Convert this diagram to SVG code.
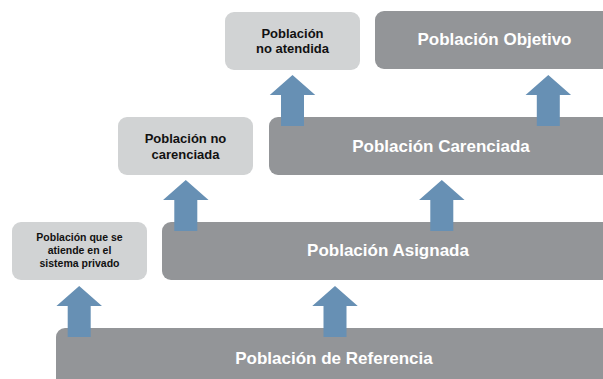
<svg xmlns="http://www.w3.org/2000/svg" xmlns:xlink="http://www.w3.org/1999/xlink" width="603" height="379" viewBox="0 0 603 379">
  <style>
    .dark { fill: #939598; }
    .light { fill: #d1d3d4; }
    .big { font-family: "Liberation Sans", Arial, sans-serif; font-weight: bold; font-size: 17px; fill: #ffffff; text-anchor: middle; }
    .mid { font-family: "Liberation Sans", Arial, sans-serif; font-weight: bold; font-size: 13px; fill: #111111; text-anchor: middle; }
    .small { font-family: "Liberation Sans", Arial, sans-serif; font-weight: bold; font-size: 10.5px; fill: #111111; text-anchor: middle; }
    .arrow { fill: #6790b4; }
  </style>
  <defs>
    <path id="up" class="arrow" d="M0,0 L22.75,20 L11.5,20 L11.5,51 L-11.5,51 L-11.5,20 L-22.75,20 Z"/>
  </defs>
  <rect width="603" height="379" fill="#ffffff"/>

  <g id="node-referencia">
    <rect class="dark" x="56" y="328" width="560" height="62" rx="9"/>
    <text class="big" x="334" y="364">Población de Referencia</text>
  </g>
  <g id="node-privado">
    <rect class="light" x="12" y="222" width="135" height="58" rx="9"/>
    <text class="small" x="79.5" y="241">Población que se</text>
    <text class="small" x="79.5" y="254">atiende en el</text>
    <text class="small" x="79.5" y="267">sistema privado</text>
  </g>
  <g id="node-asignada">
    <rect class="dark" x="162" y="222" width="453" height="58" rx="9"/>
    <text class="big" x="388" y="256">Población Asignada</text>
  </g>
  <g id="node-no-carenciada">
    <rect class="light" x="118" y="117" width="135" height="58" rx="9"/>
    <text class="mid" x="185.5" y="143">Población no</text>
    <text class="mid" x="185.5" y="158.5">carenciada</text>
  </g>
  <g id="node-carenciada">
    <rect class="dark" x="269" y="117" width="345" height="58" rx="9"/>
    <text class="big" x="441" y="151.5">Población Carenciada</text>
  </g>
  <g id="node-no-atendida">
    <rect class="light" x="225" y="12" width="135" height="58" rx="9"/>
    <text class="mid" x="292.5" y="37.5">Población</text>
    <text class="mid" x="292.5" y="53">no atendida</text>
  </g>
  <g id="node-objetivo">
    <rect class="dark" x="375" y="11" width="239" height="58" rx="9"/>
    <text class="big" x="494.5" y="45">Población Objetivo</text>
  </g>

  <g id="connectors">
    <use xlink:href="#up" x="292.5" y="75"/>
    <use xlink:href="#up" x="548.3" y="75"/>
    <use xlink:href="#up" x="185.8" y="180"/>
    <use xlink:href="#up" x="441.8" y="180"/>
    <use xlink:href="#up" x="79.2" y="286"/>
    <use xlink:href="#up" x="335" y="286"/>
  </g>
</svg>
